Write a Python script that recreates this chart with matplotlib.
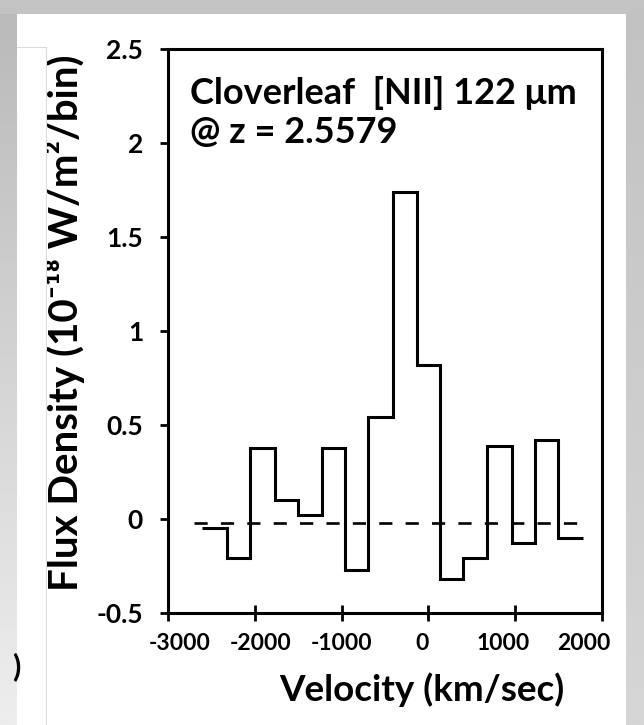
import numpy as np
import matplotlib
matplotlib.use('Agg')
import matplotlib.pyplot as plt
from matplotlib.patches import Rectangle
from matplotlib.colors import LinearSegmentedColormap
from matplotlib.ticker import FormatStrFormatter
from matplotlib.transforms import Bbox

# spectrum
vel_edges = [-2612, -2324, -2055, -1767, -1502, -1229, -961, -696, -408,
             -135, 134, 399, 672, 960, 1228, 1493, 1785]
flux = [-0.05, -0.21, 0.38, 0.10, 0.02, 0.38, -0.27, 0.54, 1.74,
        0.82, -0.32, -0.21, 0.39, -0.13, 0.42, -0.10]
baseline_level = -0.02
baseline_span = [-2700, 1850]

x_ticks = [-3000, -2000, -1000, 0, 1000, 2000]
y_ticks = [-0.5, 0, 0.5, 1, 1.5, 2, 2.5]

plt.rcParams['font.family'] = ['Lato', 'DejaVu Sans']
plt.rcParams['font.weight'] = 'bold'
plt.rcParams['axes.unicode_minus'] = False

W, H = 644, 725
fig = plt.figure(figsize=(W / 100, H / 100), dpi=100)
fig.patch.set_facecolor('white')

# screenshot frame (gray borders)
bg = fig.add_axes([0, 0, 1, 1], zorder=-10)
grad = np.linspace(0, 1, 256).reshape(-1, 1)
bg.imshow(grad, cmap=LinearSegmentedColormap.from_list('l', ['#b9b9b9', '#eeeeee']),
          extent=[0, 17, H, 0], aspect='auto')
bg.imshow(grad, cmap=LinearSegmentedColormap.from_list('r', ['#c2c2c2', '#d6d6d6']),
          extent=[626, W, H, 0], aspect='auto')
bg.add_patch(Rectangle((0, 0), W, 14, color='#c3c3c3', lw=0))
bg.plot([46, 46], [47, H], color='#dcdcdc', lw=0.8)
bg.plot([17, 46], [47, 47], color='#dcdcdc', lw=0.8)
bg.set_xlim(0, W)
bg.set_ylim(H, 0)
bg.axis('off')

ax = fig.add_axes([168 / W, 1 - 613 / H, 434 / W, 564 / H])
ax.stairs(flux, vel_edges, baseline=None, color='black', lw=2.2)
ax.plot(baseline_span, [baseline_level, baseline_level], color='black',
        lw=1.9, dashes=(5, 5))

ax.set_xlim(-3000, 2000)
ax.set_ylim(-0.5, 2.5)
ax.set_xticks(x_ticks)
ax.set_yticks(y_ticks)
ax.yaxis.set_major_formatter(FormatStrFormatter('%g'))
for s in ax.spines.values():
    s.set_linewidth(2.2)
ax.tick_params(axis='y', direction='out', length=6, width=2, pad=12, labelsize=19)
ax.tick_params(axis='x', direction='inout', length=11, width=2, labelbottom=False)
for lab in ax.get_yticklabels():
    lab.set_fontweight('bold')

# x tick labels sit a bit tighter than the ticks in the original
lab_ax = fig.add_axes([180 / W, 1 - 613 / H, 404 / W, 564 / H], zorder=-5)
lab_ax.set_xlim(-3000, 2000)
lab_ax.set_xticks(x_ticks)
lab_ax.set_yticks([])
lab_ax.patch.set_visible(False)
for s in lab_ax.spines.values():
    s.set_visible(False)
lab_ax.tick_params(axis='x', length=0, pad=14.6, labelsize=16.5)
for lab in lab_ax.get_xticklabels():
    lab.set_fontweight('bold')

def fx(px):
    return px / W

def fy(py):
    return 1 - py / H

fig.text(fx(190), fy(104), 'Cloverleaf  [NII] 122 \u03bcm', fontsize=26,
         fontweight='bold', ha='left', va='baseline')
fig.text(fx(190), fy(143), '@ z = 2.5579', fontsize=26,
         fontweight='bold', ha='left', va='baseline')

fig.text(fx(422), fy(701), 'Velocity (km/sec)', fontsize=26.5,
         fontweight='bold', ha='center', va='baseline')

yl = fig.text(fx(78), fy(323), 'Flux Density (10\u207b\u00b9\u2078 W/m\u00b2/bin)',
              fontsize=29, fontweight='bold', rotation=90,
              rotation_mode='anchor', ha='center', va='baseline')
yl.set_clip_box(Bbox.from_extents(47, 0, W, H))
yl.set_clip_on(True)

fig.text(fx(16), fy(667), ')', fontsize=22, fontweight='bold',
         ha='center', va='center')

fig.savefig('out.png', dpi=100)
